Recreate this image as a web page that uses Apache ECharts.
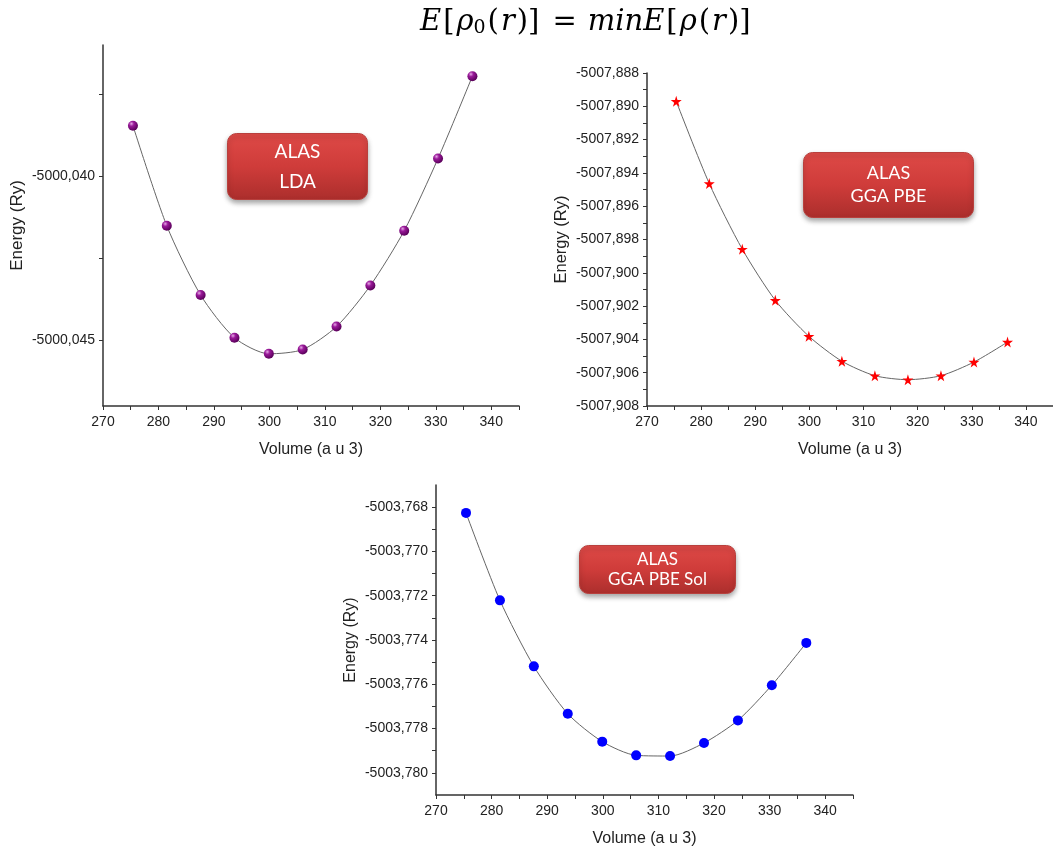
<!DOCTYPE html>
<html>
<head>
<meta charset="utf-8">
<title>AlAs E(V)</title>
<script src="https://cdn.jsdelivr.net/npm/echarts@6/dist/echarts.min.js"></script>
<style>
  html, body { margin: 0; padding: 0; background: #ffffff; }
  #main { width: 1053px; height: 848px; }
</style>
</head>
<body>
<div id="main"></div>
<script>
// volumes (a.u.^3), same for the three functionals
var volume = [275.4, 281.5, 287.6, 293.7, 299.9, 306.0, 312.1, 318.2, 324.3, 330.4, 336.6];
// total energies (Ry)
var energyLDA = [-5000.03846, -5000.04151, -5000.04362, -5000.04492, -5000.04541, -5000.04528,
                 -5000.04458, -5000.04333, -5000.04166, -5000.03946, -5000.03695];
var energyPBE = [-5007.88970, -5007.89464, -5007.89858, -5007.90165, -5007.90381, -5007.90531,
                 -5007.90618, -5007.90642, -5007.90618, -5007.90536, -5007.90416];
var energySol = [-5003.76826, -5003.77221, -5003.77519, -5003.77733, -5003.77859, -5003.77921,
                 -5003.77924, -5003.77865, -5003.77763, -5003.77604, -5003.77413];

// tick labels / tick marks
var volLabels = [270, 280, 290, 300, 310, 320, 330, 340];
var volTicks = [270, 275, 280, 285, 290, 295, 300, 305, 310, 315, 320, 325, 330, 335, 340, 345];
var ldaLabels = [-5000.045, -5000.040];
var ldaTicks = [-5000.045, -5000.0425, -5000.040, -5000.0375];
var pbeLabels = [-5007.908, -5007.906, -5007.904, -5007.902, -5007.900, -5007.898,
                 -5007.896, -5007.894, -5007.892, -5007.890, -5007.888];
var pbeTicks = [-5007.908, -5007.907, -5007.906, -5007.905, -5007.904, -5007.903, -5007.902,
                -5007.901, -5007.900, -5007.899, -5007.898, -5007.897, -5007.896, -5007.895,
                -5007.894, -5007.893, -5007.892, -5007.891, -5007.890, -5007.889, -5007.888];
var solLabels = [-5003.780, -5003.778, -5003.776, -5003.774, -5003.772, -5003.770, -5003.768];
var solTicks = [-5003.780, -5003.779, -5003.778, -5003.777, -5003.776, -5003.775, -5003.774,
                -5003.773, -5003.772, -5003.771, -5003.770, -5003.769, -5003.768];

var FONT = 'Liberation Sans, Arial, sans-serif';

function pairs(ys) {
  var out = [];
  for (var i = 0; i < volume.length; i++) out.push([volume[i], ys[i]]);
  return out;
}

function xAxisFor(idx) {
  return {
    type: 'value', gridIndex: idx, min: 270, max: 345,
    name: 'Volume (a u 3)', nameLocation: 'middle', nameGap: 36,
    nameTextStyle: { fontFamily: FONT, fontSize: 16, color: '#222' },
    axisLine: { show: true, onZero: false, lineStyle: { color: '#333', width: 1.5 } },
    axisTick: { show: true, length: 4, customValues: volTicks, lineStyle: { color: '#333' } },
    axisLabel: { customValues: volLabels, margin: 9, fontFamily: FONT, fontSize: 14, color: '#222' },
    splitLine: { show: false }
  };
}

function yAxisFor(idx, min, max, labels, ticks, nameSize) {
  return {
    type: 'value', gridIndex: idx, min: min, max: max,
    name: 'Energy (Ry)', nameLocation: 'middle', nameGap: 77,
    nameTextStyle: { fontFamily: FONT, fontSize: nameSize, color: '#222' },
    axisLine: { show: true, onZero: false, lineStyle: { color: '#333', width: 1.5 } },
    axisTick: { show: true, length: 4, customValues: ticks, lineStyle: { color: '#333' } },
    axisLabel: {
      customValues: labels, margin: 8, fontFamily: FONT, fontSize: 14, color: '#222',
      formatter: function (v) { return v.toFixed(3).replace('.', ','); }
    },
    splitLine: { show: false }
  };
}

function lineSeries(idx, data, symbol, size, color) {
  return {
    type: 'line', xAxisIndex: idx, yAxisIndex: idx,
    data: pairs(data), smooth: 0.25,
    symbol: symbol, symbolSize: size, showSymbol: true,
    lineStyle: { color: '#666', width: 1 },
    itemStyle: { color: color, borderWidth: 0 },
    z: 3
  };
}

function badge(x, y, w, h, lines, fs, lh) {
  return {
    type: 'group', left: x, top: y,
    children: [{
      type: 'rect',
      shape: { width: w, height: h, r: 9 },
      style: {
        fill: new echarts.graphic.LinearGradient(0, 0, 0, 1, [
          { offset: 0, color: '#de4a47' },
          { offset: 0.5, color: '#cf3c3a' },
          { offset: 1, color: '#ab2e2c' }
        ]),
        stroke: '#b8403d', lineWidth: 1,
        shadowBlur: 5, shadowOffsetY: 3, shadowColor: 'rgba(0,0,0,0.35)'
      }
    }, {
      type: 'text',
      x: w / 2, y: h / 2,
      style: {
        text: lines.join('\n'), fill: '#ffffff',
        font: fs + 'px Lato, "Open Sans", sans-serif',
        align: 'center', verticalAlign: 'middle', lineHeight: lh
      }
    }]
  };
}

var purpleBall = new echarts.graphic.RadialGradient(0.35, 0.3, 0.7, [
  { offset: 0, color: '#e6a8e6' },
  { offset: 0.35, color: '#9a1a9a' },
  { offset: 1, color: '#5a005a' }
]);

var SERIF = 'DejaVu Serif, serif';
var chart = echarts.init(document.getElementById('main'), null, { renderer: 'canvas' });
chart.setOption({
  backgroundColor: '#ffffff',
  animation: false,
  grid: [
    { left: 103, top: 45, width: 416, height: 361 },
    { left: 647, top: 73, width: 416, height: 333 },
    { left: 436, top: 485, width: 417, height: 311 }
  ],
  xAxis: [xAxisFor(0), xAxisFor(1), xAxisFor(2)],
  yAxis: [
    yAxisFor(0, -5000.047, -5000.036, ldaLabels, ldaTicks, 17),
    yAxisFor(1, -5007.908, -5007.888, pbeLabels, pbeTicks, 16.5),
    yAxisFor(2, -5003.781, -5003.767, solLabels, solTicks, 16)
  ],
  series: [
    lineSeries(0, energyLDA, 'circle', 10, purpleBall),
    lineSeries(1, energyPBE, 'path://M50,0 L61,35 L98,35 L68,57 L79,91 L50,70 L21,91 L32,57 L2,35 L39,35 Z', 11, '#ff0000'),
    lineSeries(2, energySol, 'circle', 10, '#0000ff')
  ],
  graphic: [
    {
      type: 'text', left: 420, top: 8,
      style: {
        rich: {
          it: { fontFamily: SERIF, fontStyle: 'italic', fontSize: 29, fill: '#000' },
          rm: { fontFamily: SERIF, fontSize: 29, fill: '#000', padding: [0, 2, 0, 2] },
          eq: { fontFamily: SERIF, fontSize: 29, fill: '#000', padding: [0, 11, 0, 11] },
          sub: { fontFamily: SERIF, fontSize: 19, fill: '#000', verticalAlign: 'bottom', padding: [11, 0, 0, 0] }
        },
        text: '{it|E}{rm|[}{it|ρ}{sub|0}{rm|(}{it|r}{rm|)]}{eq|=}{it|minE}{rm|[}{it|ρ}{rm|(}{it|r}{rm|)]}'
      }
    },
    badge(227, 133, 140, 66, ['ALAS', 'LDA'], 19, 30),
    badge(803, 152, 170, 65, ['ALAS', 'GGA PBE'], 18, 23),
    badge(579, 545, 156, 48, ['ALAS', 'GGA PBE Sol'], 17, 20)
  ]
});
</script>
</body>
</html>
